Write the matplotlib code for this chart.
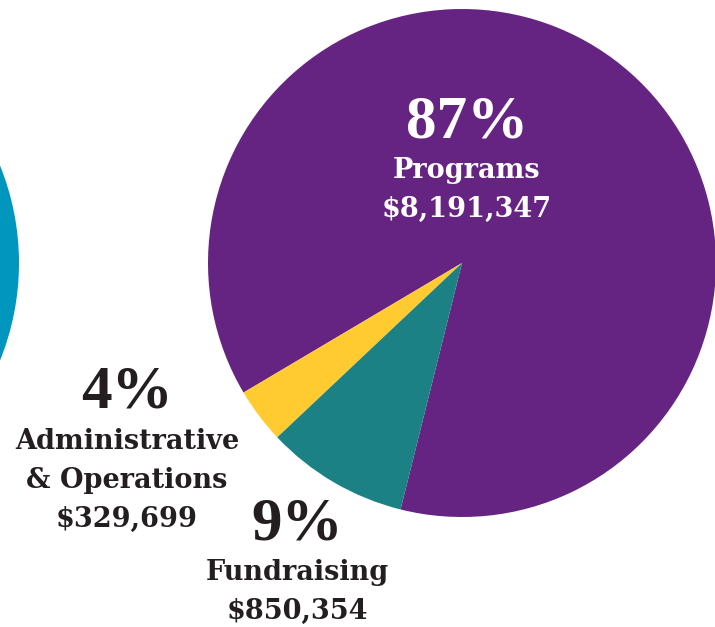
import numpy as np
import matplotlib.pyplot as plt
from matplotlib.patches import Circle

# expense breakdown
categories = ['Programs', 'Administrative\n& Operations', 'Fundraising']
amounts = [8191347, 329699, 850354]
pct_labels = ['87%', '4%', '9%']
colors = ['#662482', '#FFCB31', '#1B8185']

W, H = 715, 627
TXT = '#231F20'


def main():
	fig = plt.figure(figsize=(W / 100, H / 100), dpi=100)
	ax = fig.add_axes([0, 0, 1, 1])

	# partial blue circle on the left edge (previous chart)
	ax.add_patch(Circle((-241, H - 263), 260, color='#0096BE', lw=0))

	ax.pie(amounts, colors=colors, startangle=256, counterclock=True,
	       center=(462, H - 263), radius=254, frame=True,
	       wedgeprops=dict(linewidth=0))
	ax.set_xlim(0, W)
	ax.set_ylim(0, H)
	ax.axis('off')

	# (x, y of pct, text colour)
	spots = [(467, 122, 'white'), (127, 393, TXT), (297, 524, TXT)]
	for i, (x, y, c) in enumerate(spots):
		ax.text(x, H - y, pct_labels[i], ha='center', va='center',
		        fontsize=44, fontweight='bold',
		        family=['Liberation Serif', 'DejaVu Serif'], color=c)
		lines = categories[i].split('\n') + ['$' + format(amounts[i], ',')]
		for j, ln in enumerate(lines):
			ax.text(x, H - (y + 56 + 39 * j), ln, ha='center', va='baseline',
			        fontsize=19.5, fontweight='bold', family='DejaVu Serif', color=c)

	fig.savefig('out.png', dpi=100)


if __name__ == '__main__':
	main()
